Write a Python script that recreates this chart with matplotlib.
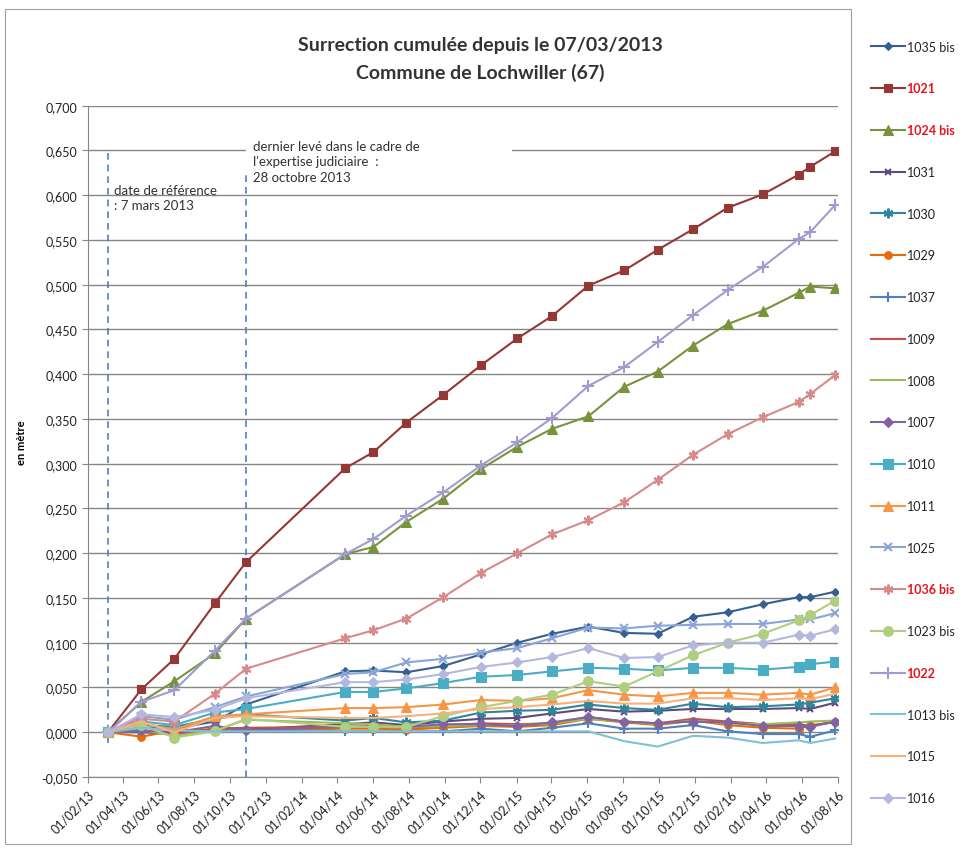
import datetime as dt
import matplotlib
matplotlib.use("Agg")
import matplotlib.pyplot as plt
import matplotlib.dates as mdates
from matplotlib.patches import Rectangle
from matplotlib.ticker import FuncFormatter, MultipleLocator

plt.rcParams['font.family'] = ['Lato', 'DejaVu Sans']

# dates des levés
dates = ["2013-03-07", "2013-05-03", "2013-06-28", "2013-09-05", "2013-10-28",
         "2014-04-15", "2014-06-02", "2014-07-28", "2014-09-29", "2014-12-02",
         "2015-02-02", "2015-04-02", "2015-06-03", "2015-08-03", "2015-09-29",
         "2015-11-28", "2016-01-26", "2016-03-26", "2016-05-26", "2016-06-15",
         "2016-07-27"]

# surrection cumulée (m)
s_1035bis = [0, 0.005, 0.004, 0.012, 0.031, 0.068, 0.069, 0.067, 0.074, 0.087, 0.100,
             0.110, 0.118, 0.111, 0.110, 0.129, 0.134, 0.143, 0.151, 0.151, 0.157]
s_1021 = [0, 0.048, 0.082, 0.144, 0.190, 0.295, 0.313, 0.346, 0.377, 0.410, 0.440,
          0.465, 0.499, 0.516, 0.539, 0.562, 0.586, 0.601, 0.623, 0.632, 0.649]
s_1024bis = [0, 0.034, 0.057, 0.088, 0.127, 0.199, 0.207, 0.235, 0.261, 0.294, 0.319,
             0.339, 0.353, 0.386, 0.403, 0.432, 0.456, 0.471, 0.491, 0.498, 0.496]
s_1031 = [0, 0.000, -0.002, 0.004, 0.003, 0.009, 0.011, 0.008, 0.012, 0.015, 0.016,
          0.021, 0.026, 0.023, 0.024, 0.026, 0.026, 0.026, 0.027, 0.026, 0.033]
s_1030 = [0, 0.008, 0.006, 0.015, 0.020, 0.013, 0.016, 0.011, 0.013, 0.022, 0.024,
          0.025, 0.031, 0.027, 0.025, 0.032, 0.028, 0.029, 0.031, 0.033, 0.038]
s_1029 = [0, -0.005, 0.002, 0.003, 0.002, 0.004, 0.004, 0.003, 0.005, 0.007, 0.006,
          0.008, 0.015, 0.011, 0.008, 0.013, 0.008, 0.005, 0.004, 0.008, 0.011]
s_1037 = [0, 0.001, -0.002, 0.001, 0.001, 0.001, 0.001, 0.001, 0.001, 0.004, 0.001,
          0.005, 0.010, 0.004, 0.004, 0.008, 0.001, -0.002, -0.002, -0.005, 0.002]
s_1009 = [0, 0.002, -0.003, 0.004, 0.005, 0.006, 0.007, 0.005, 0.007, 0.010, 0.009,
          0.010, 0.017, 0.012, 0.010, 0.015, 0.012, 0.009, 0.009, 0.007, 0.012]
s_1008 = [0, 0.003, -0.004, 0.002, 0.014, 0.010, 0.009, 0.006, 0.007, 0.008, 0.008,
          0.010, 0.015, 0.012, 0.009, 0.013, 0.010, 0.009, 0.011, 0.012, 0.013]
s_1007 = [0, 0.002, 0.000, 0.007, 0.002, 0.006, 0.006, 0.006, 0.009, 0.009, 0.007,
          0.011, 0.017, 0.012, 0.010, 0.012, 0.011, 0.007, 0.007, 0.006, 0.012]
s_1010 = [0, 0.012, 0.008, 0.022, 0.026, 0.045, 0.045, 0.049, 0.055, 0.062, 0.064,
          0.068, 0.072, 0.071, 0.069, 0.072, 0.072, 0.070, 0.073, 0.076, 0.079]
s_1011 = [0, 0.010, 0.003, 0.018, 0.020, 0.027, 0.027, 0.028, 0.031, 0.036, 0.035,
          0.038, 0.047, 0.042, 0.040, 0.044, 0.044, 0.042, 0.044, 0.042, 0.050]
s_1025 = [0, 0.018, 0.014, 0.028, 0.040, 0.065, 0.067, 0.078, 0.082, 0.089, 0.094,
          0.105, 0.117, 0.116, 0.119, 0.120, 0.121, 0.121, 0.126, 0.126, 0.133]
s_1036bis = [0, 0.015, 0.012, 0.043, 0.071, 0.105, 0.114, 0.127, 0.151, 0.178, 0.200,
             0.221, 0.237, 0.257, 0.282, 0.310, 0.333, 0.352, 0.369, 0.378, 0.399]
s_1023bis = [0, 0.008, -0.006, 0.001, 0.015, 0.006, 0.006, 0.006, 0.018, 0.028, 0.035,
             0.042, 0.057, 0.051, 0.068, 0.086, 0.100, 0.110, 0.125, 0.131, 0.147]
s_1022 = [0, 0.034, 0.047, 0.091, 0.127, 0.199, 0.216, 0.242, 0.268, 0.298, 0.324,
          0.351, 0.387, 0.408, 0.436, 0.466, 0.494, 0.520, 0.551, 0.559, 0.589]
s_1013bis = [0, 0.005, 0.002, 0.001, 0.001, 0.001, 0.001, 0.001, 0.001, 0.001, 0.001,
             0.001, 0.001, -0.010, -0.016, -0.004, -0.006, -0.012, -0.009, -0.012, -0.007]
s_1015 = [0, 0.012, 0.000, 0.016, 0.018, 0.016, 0.016, 0.018, 0.021, 0.026, 0.028,
          0.031, 0.035, 0.032, 0.032, 0.038, 0.038, 0.036, 0.038, 0.037, 0.043]
s_1016 = [0, 0.020, 0.017, 0.025, 0.038, 0.056, 0.056, 0.059, 0.065, 0.073, 0.078,
          0.084, 0.094, 0.083, 0.084, 0.097, 0.100, 0.100, 0.109, 0.108, 0.115]

labels = ["1035 bis", "1021", "1024 bis", "1031", "1030", "1029", "1037", "1009",
          "1008", "1007", "1010", "1011", "1025", "1036 bis", "1023 bis", "1022",
          "1013 bis", "1015", "1016"]
series = [s_1035bis, s_1021, s_1024bis, s_1031, s_1030, s_1029, s_1037, s_1009,
          s_1008, s_1007, s_1010, s_1011, s_1025, s_1036bis, s_1023bis, s_1022,
          s_1013bis, s_1015, s_1016]
highlighted = ["1021", "1024 bis", "1036 bis", "1022"]

ast = (6, 2, 0)
styles = [
    ("#376092", "D", 4.5), ("#953735", "s", 6), ("#77933C", "^", 6.5),
    ("#604A7B", "x", 5), ("#31859C", ast, 7), ("#E46C0A", "o", 5.5),
    ("#4F81BD", "+", 7), ("#C0504D", None, 0), ("#9BBB59", None, 0),
    ("#8064A2", "D", 5), ("#4BACC6", "s", 7), ("#F79646", "^", 7),
    ("#8AA5D6", "x", 6), ("#D88A8A", ast, 7), ("#B0CD80", "o", 7),
    ("#A09CCF", "+", 8), ("#7FBFD8", None, 0), ("#F8B07C", None, 0),
    ("#B4B8DE", "D", 5.5),
]

ref_date = dt.datetime(2013, 3, 7)
expert_date = dt.datetime(2013, 10, 28)

x = [dt.datetime.strptime(d, "%Y-%m-%d") for d in dates]

fig = plt.figure(figsize=(9.64, 8.54), dpi=100)
ax = fig.add_axes([0.0913, 0.089, 0.778, 0.786])

handles = []
for lab, vals, (col, mk, ms) in zip(labels, series, styles):
    h, = ax.plot(x, vals, color=col, lw=1.5, marker=mk, markersize=ms,
                 markeredgewidth=1.5 if mk in ("x", "+", ast) else 0.8,
                 markeredgecolor=col, markerfacecolor=col, zorder=3)
    handles.append(h)

ax.set_ylim(-0.05, 0.70)
ax.set_xlim(dt.datetime(2013, 2, 1), dt.datetime(2016, 8, 1))
ax.yaxis.set_major_locator(MultipleLocator(0.05))
ax.yaxis.set_major_formatter(FuncFormatter(lambda v, p: f"{v:.3f}".replace(".", ",")))
ax.xaxis.set_major_locator(mdates.MonthLocator(bymonth=[2, 4, 6, 8, 10, 12]))
ax.xaxis.set_major_formatter(mdates.DateFormatter("%d/%m/%y"))
for t in ax.get_xticklabels():
    t.set_rotation(45)
    t.set_ha("right")
    t.set_rotation_mode("anchor")
ax.tick_params(axis="both", labelsize=9, length=4, colors="#222222")
ax.tick_params(axis="both", color="#868686")

ax.set_axisbelow(True)
ax.grid(axis="y", color="#868686", lw=1.0)
for s in ["top", "right"]:
    ax.spines[s].set_visible(False)
for s in ["left", "bottom"]:
    ax.spines[s].set_color("#868686")

ax.set_ylabel("en mètre", fontsize=8, fontweight="bold", labelpad=10)

# lignes verticales de repère
ax.axvline(ref_date, ymin=(-0.012 + 0.05) / 0.75, ymax=(0.652 + 0.05) / 0.75,
           color="#4F81BD", ls=(0, (4, 3)), lw=1.2, zorder=2)
ax.axvline(expert_date, ymin=0, ymax=(0.626 + 0.05) / 0.75,
           color="#4F81BD", ls=(0, (4, 3)), lw=1.2, zorder=2)

# zone blanche de la zone de texte
x0 = mdates.date2num(expert_date)
x1 = mdates.date2num(dt.datetime(2015, 1, 24))
ax.add_patch(Rectangle((x0, 0.627), x1 - x0, 0.04, facecolor="white",
                       edgecolor="none", zorder=1))

ax.annotate("date de référence\n: 7 mars 2013", xy=(ref_date, 0.613),
            xytext=(4, 0), textcoords="offset points", va="top", ha="left",
            fontsize=9.5, color="#333333", linespacing=1.35, zorder=4)
ax.annotate("dernier levé dans le cadre de\nl'expertise judiciaire  :\n28 octobre 2013",
            xy=(expert_date, 0.662), xytext=(5, 0), textcoords="offset points",
            va="top", ha="left", fontsize=9.5, color="#333333", linespacing=1.35,
            zorder=4)

fig.text(0.498, 0.947, "Surrection cumulée depuis le 07/03/2013",
         ha="center", va="center", fontsize=14, fontweight="bold", color="#333333")
fig.text(0.498, 0.915, "Commune de Lochwiller (67)",
         ha="center", va="center", fontsize=14, fontweight="bold", color="#333333")

leg = fig.legend(handles, labels, loc="upper left", bbox_to_anchor=(0.897, 0.9585),
                 frameon=False, fontsize=9, handlelength=2.7, handletextpad=0.15,
                 labelspacing=2.38, borderpad=0)
for t in leg.get_texts():
    if t.get_text() in highlighted:
        t.set_color("#E8141E")
        t.set_fontweight("bold")
    else:
        t.set_color("#222222")

# cadre du graphique
fig.add_artist(Rectangle((0.005, 0.011), 0.878, 0.977, transform=fig.transFigure,
                         fill=False, edgecolor="#a0a0a0", lw=0.8))

fig.savefig("out.png", dpi=100)
